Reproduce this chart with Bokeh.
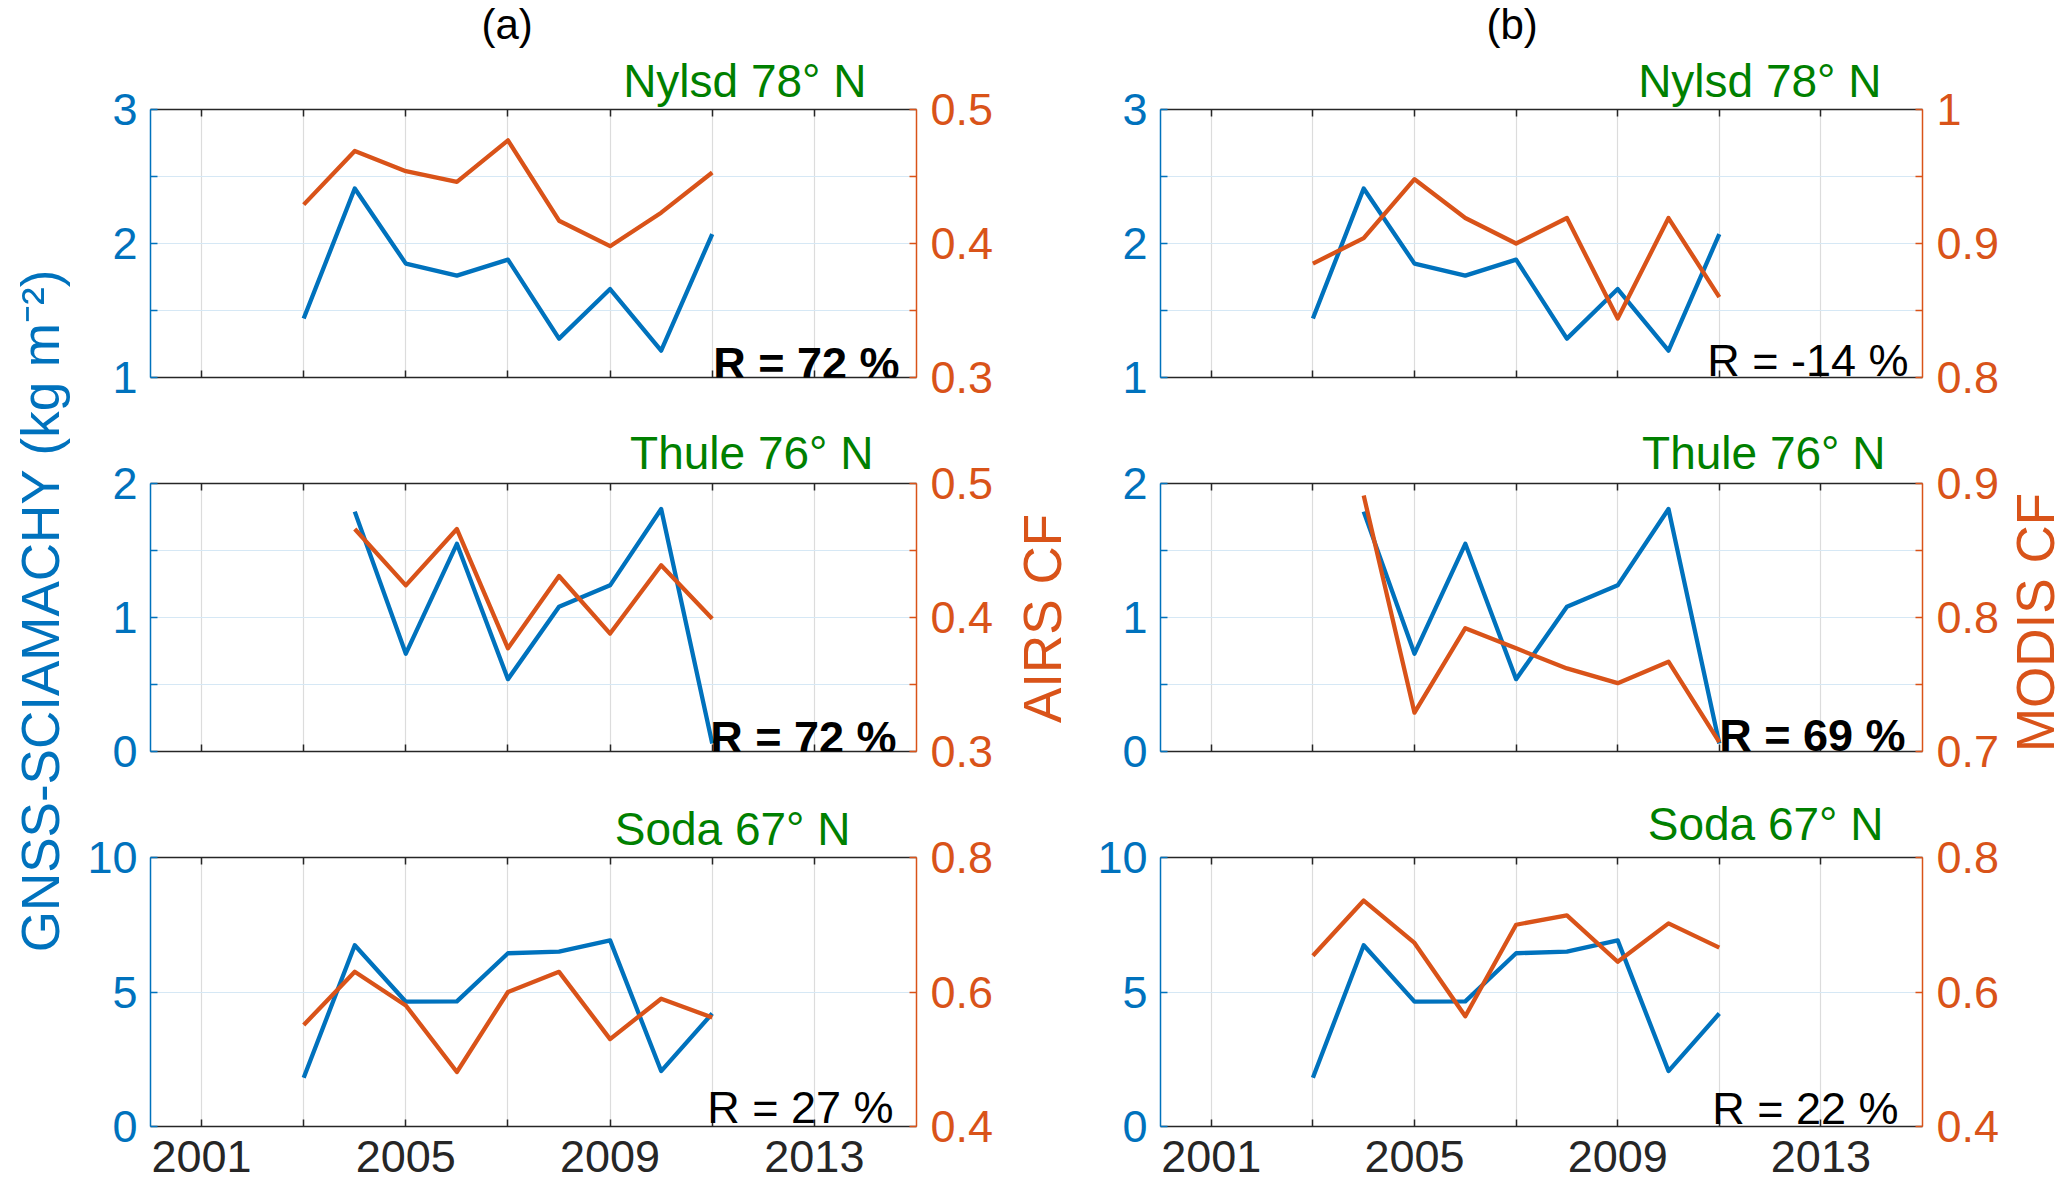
from bokeh.plotting import figure
from bokeh.models import (LinearAxis, Range1d, FixedTicker, Label, Grid, Title,
                          CustomJSTickFormatter, Spacer)
from bokeh.layouts import row, column
from bokeh.embed import file_html
from bokeh.resources import INLINE

# ---------------- data ----------------
years = [2003, 2004, 2005, 2006, 2007, 2008, 2009, 2010, 2011]
thule_years = [2004, 2005, 2006, 2007, 2008, 2009, 2010, 2011]

nylsd_gnss = [1.44, 2.41, 1.85, 1.76, 1.88, 1.29, 1.66, 1.20, 2.07]
nylsd_airs = [0.429, 0.469, 0.454, 0.446, 0.477, 0.417, 0.398, 0.423, 0.453]
nylsd_modis = [0.885, 0.904, 0.948, 0.919, 0.900, 0.919, 0.844, 0.919, 0.860]

thule_gnss = [1.79, 0.73, 1.55, 0.54, 1.08, 1.24, 1.81, 0.06]
thule_airs = [0.466, 0.424, 0.466, 0.377, 0.431, 0.388, 0.439, 0.399]
thule_modis = [0.891, 0.729, 0.792, 0.777, 0.762, 0.751, 0.767, 0.707]

soda_gnss = [1.81, 6.74, 4.64, 4.65, 6.44, 6.50, 6.92, 2.06, 4.20]
soda_airs = [0.551, 0.630, 0.580, 0.481, 0.600, 0.630, 0.530, 0.590, 0.562]
soda_modis = [0.654, 0.736, 0.673, 0.564, 0.700, 0.714, 0.645, 0.702, 0.666]

stations = ["Nylsd 78° N", "Thule 76° N", "Soda 67° N"]
panel_titles = ["(a)", "(b)"]
r_airs = ["R = 72 %", "R = 72 %", "R = 27 %"]
r_modis = ["R = -14 %", "R = 69 %", "R = 22 %"]
r_airs_bold = [True, True, False]
r_modis_bold = [False, True, False]

x_tick_labels = [2001, 2005, 2009, 2013]
x_minor_ticks = [2003, 2007, 2011]

gnss_ranges = [(1, 3), (0, 2), (0, 10)]
gnss_ticks = [[1, 2, 3], [0, 1, 2], [0, 5, 10]]
gnss_minor = [[1.5, 2.5], [0.5, 1.5], []]
airs_ranges = [(0.3, 0.5), (0.3, 0.5), (0.4, 0.8)]
airs_ticks = [[0.3, 0.4, 0.5], [0.3, 0.4, 0.5], [0.4, 0.6, 0.8]]
airs_minor = [[0.35, 0.45], [0.35, 0.45], []]
modis_ranges = [(0.8, 1.0), (0.7, 0.9), (0.4, 0.8)]
modis_ticks = [[0.8, 0.9, 1], [0.7, 0.8, 0.9], [0.4, 0.6, 0.8]]
modis_minor = [[0.85, 0.95], [0.75, 0.85], []]

y_label = "GNSS-SCIAMACHY (kg m\u207b\u00b2)"
cf_labels = ["AIRS CF", "MODIS CF"]

gnss_series = [(years, nylsd_gnss), (thule_years, thule_gnss), (years, soda_gnss)]
cf_series = [
    [(years, nylsd_airs), (thule_years, thule_airs), (years, soda_airs)],
    [(years, nylsd_modis), (thule_years, thule_modis), (years, soda_modis)],
]
cf_ranges = [airs_ranges, modis_ranges]
cf_ticks = [airs_ticks, modis_ticks]
cf_minor = [airs_minor, modis_minor]
r_texts = [r_airs, r_modis]
r_bold = [r_airs_bold, r_modis_bold]

# ---------------- style / geometry ----------------
FONT = "Liberation Sans"
BLUE = "#0072BD"
ORANGE = "#D95319"
GREEN = "#008000"
DARK = "#262626"
HGRID = "#d6e8f5"
VGRID = "#dcdcdc"

PAGE_H = 1191
FW = [766, 762]                  # frame widths per column
FRAME_LEFT_PAGE = [150, 1160]
BL = [75, 84]                    # left borders per column
BR = [93, 80]                    # right borders per column
FH = [268, 268, 269]             # frame heights per row
BT = [109, 72, 72]
BB = [34, 34, 65]

title_offset = [331, 326]                 # from frame left
title_standoff = [0, 0]
station_offset = [[50, 43, 66], [41, 37, 39]]   # from frame right
station_standoff = [[6, 9, 5], [6, 9, 16]]
r_right_page = [[899, 896, 893], [1908, 1905, 1898]]
r_gap = [[14, 14.5, 19], [17, 16, 18]]

fmt_code = "return String(tick);"
blank_code = "return '';"


def page_to_x(ci, px):
    return 2000 + (px - FRAME_LEFT_PAGE[ci]) * 15.0 / FW[ci]


def style_axis(ax, color, show_labels, size, standoff):
    ax.axis_line_color = color
    ax.axis_line_width = 1.5
    ax.major_tick_line_color = color
    ax.minor_tick_line_color = color
    ax.major_tick_line_width = 1.5
    ax.minor_tick_line_width = 1.5
    ax.major_tick_in = 7
    ax.major_tick_out = 0
    ax.minor_tick_in = 7
    ax.minor_tick_out = 0
    ax.major_label_text_color = color
    ax.major_label_text_font = FONT
    ax.major_label_text_font_size = size
    ax.major_label_standoff = standoff
    ax.formatter = CustomJSTickFormatter(code=fmt_code if show_labels else blank_code)


def panel(ri, ci):
    lo, hi = gnss_ranges[ri]
    clo, chi = cf_ranges[ci][ri]
    p = figure(frame_width=FW[ci], frame_height=FH[ri],
               x_range=Range1d(2000, 2015), y_range=Range1d(lo, hi),
               x_axis_type=None, y_axis_type=None,
               toolbar_location=None, output_backend="svg", title=None,
               min_border_left=BL[ci], min_border_right=BR[ci],
               min_border_top=BT[ri], min_border_bottom=BB[ri],
               outline_line_color=None, background_fill_color="white",
               border_fill_color="white")
    p.extra_y_ranges = {"cf": Range1d(clo, chi)}

    xt = FixedTicker(ticks=x_tick_labels, minor_ticks=x_minor_ticks)
    yt = FixedTicker(ticks=gnss_ticks[ri], minor_ticks=gnss_minor[ri])
    ct = FixedTicker(ticks=cf_ticks[ci][ri], minor_ticks=cf_minor[ci][ri])

    p.add_layout(Grid(dimension=0, ticker=xt, grid_line_color=VGRID, grid_line_width=1.2,
                      minor_grid_line_color=VGRID, minor_grid_line_width=1.2), "center")
    p.add_layout(Grid(dimension=1, ticker=yt, grid_line_color=HGRID, grid_line_width=1.2,
                      minor_grid_line_color=HGRID, minor_grid_line_width=1.2), "center")

    left = LinearAxis(ticker=yt)
    style_axis(left, BLUE, True, "45px", 13)
    p.add_layout(left, "left")

    right = LinearAxis(ticker=ct, y_range_name="cf")
    style_axis(right, ORANGE, True, "45px", 14)
    p.add_layout(right, "right")

    below = LinearAxis(ticker=xt)
    style_axis(below, DARK, ri == 2, "45px" if ri == 2 else "10px", 14 if ri == 2 else 0)
    p.add_layout(below, "below")

    above = LinearAxis(ticker=xt)
    style_axis(above, DARK, False, "10px", 0)
    p.add_layout(above, "above")

    gx, gy = gnss_series[ri]
    p.line(gx, gy, line_color=BLUE, line_width=4.3, line_join="round")
    cx, cy = cf_series[ci][ri]
    p.line(cx, cy, line_color=ORANGE, line_width=4.3, line_join="round", y_range_name="cf")

    span = hi - lo
    H = FH[ri]
    p.add_layout(Title(text=stations[ri], align="right", offset=station_offset[ci][ri],
                       standoff=station_standoff[ci][ri], text_font=FONT,
                       text_font_size="46px", text_font_style="normal",
                       text_color=GREEN), "above")
    if ri == 0:
        p.add_layout(Title(text=panel_titles[ci], align="left", offset=title_offset[ci],
                           standoff=title_standoff[ci], vertical_align="top",
                           text_font=FONT, text_font_size="42px",
                           text_font_style="normal", text_color="black"), "above")
    p.add_layout(Label(x=page_to_x(ci, r_right_page[ci][ri]),
                       y=lo + r_gap[ci][ri] * span / H,
                       text=r_texts[ci][ri], text_align="right", text_baseline="alphabetic",
                       text_font=FONT, text_font_size="45px", text_color="black",
                       text_font_style="bold" if r_bold[ci][ri] else "normal"))
    return p


def label_column(width, border_left, center_y, text, color, standoff):
    top = 2 * center_y - PAGE_H          # spacer so the figure is centred on center_y
    h = PAGE_H - top
    f = figure(width=width, height=h, x_range=Range1d(0, 1), y_range=Range1d(0, 1),
               x_axis_type=None, y_axis_type=None, toolbar_location=None,
               output_backend="svg", title=None,
               min_border_left=border_left, min_border_right=0,
               min_border_top=0, min_border_bottom=0,
               outline_line_color=None, background_fill_color="white",
               border_fill_color="white")
    ax = LinearAxis(ticker=FixedTicker(ticks=[]), axis_line_color=None,
                    major_tick_line_color=None, minor_tick_line_color=None,
                    axis_label=text, axis_label_standoff=standoff,
                    axis_label_text_font=FONT, axis_label_text_font_size="53px",
                    axis_label_text_font_style="normal", axis_label_text_color=color)
    f.add_layout(ax, "left")
    return column(Spacer(width=width, height=top), f)


colL = label_column(75, 72, 610, y_label, BLUE, 3)
colM = label_column(67, 64, 618, cf_labels[0], ORANGE, 4)
colR = label_column(65, 63, 622, cf_labels[1], ORANGE, 2)

colA = column(panel(0, 0), panel(1, 0), panel(2, 0))
colB = column(panel(0, 1), panel(1, 1), panel(2, 1))
layout = row(colL, colA, colM, colB, colR)

open("out.html", "w").write(file_html(layout, INLINE))
